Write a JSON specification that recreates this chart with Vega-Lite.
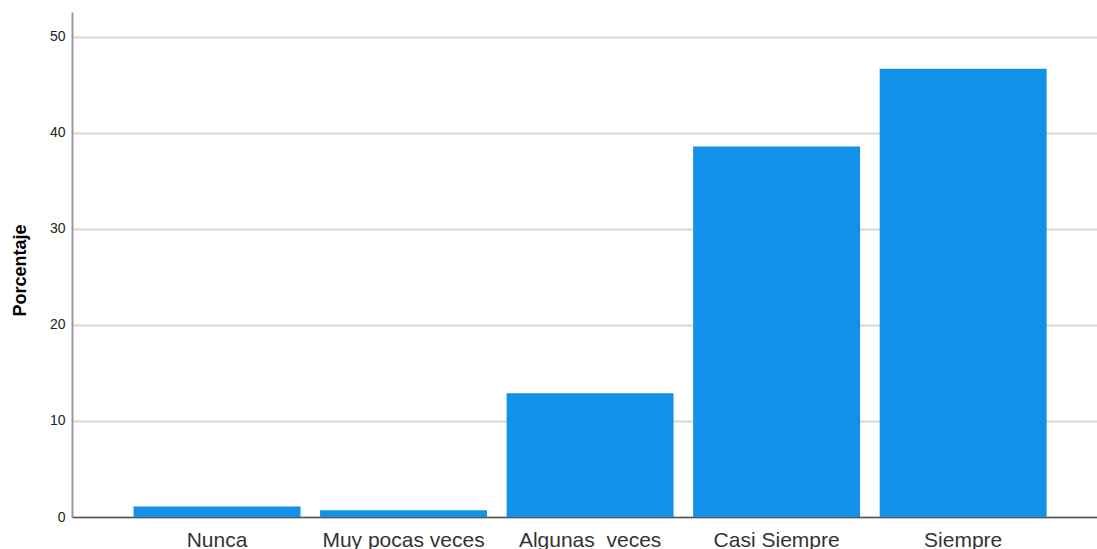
{
  "$schema": "https://vega.github.io/schema/vega-lite/v6.json",
  "width": 1025,
  "height": 505,
  "autosize": {"type": "none"},
  "padding": {"left": 72, "top": 12, "right": 0, "bottom": 32},
  "background": "white",
  "data": {
    "values": [
      {"categoria": "Nunca", "porcentaje": 1.1},
      {"categoria": "Muy pocas veces", "porcentaje": 0.7},
      {"categoria": "Algunas\u00a0 veces", "porcentaje": 12.9},
      {"categoria": "Casi Siempre", "porcentaje": 38.6},
      {"categoria": "Siempre", "porcentaje": 46.7}
    ]
  },
  "config": {
    "view": {"stroke": null},
    "font": "Liberation Sans"
  },
  "mark": {"type": "bar", "color": "#1192e8"},
  "encoding": {
    "x": {
      "field": "categoria",
      "type": "nominal",
      "sort": null,
      "scale": {"paddingInner": 0.105, "paddingOuter": 0.3, "align": 0.55},
      "axis": {
        "title": null,
        "labelAngle": 0,
        "labelFontSize": 21,
        "labelColor": "#333333",
        "labelPadding": 12,
        "ticks": false,
        "domainColor": "#555555",
        "domainWidth": 1.5,
        "grid": false
      }
    },
    "y": {
      "field": "porcentaje",
      "type": "quantitative",
      "scale": {"domain": [0, 52.6], "nice": false, "zero": true},
      "axis": {
        "title": "Porcentaje",
        "titleFontSize": 18,
        "titleFontWeight": "bold",
        "titleColor": "#000000",
        "titlePadding": 20,
        "titleY": 258,
        "values": [0, 10, 20, 30, 40, 50],
        "labelFontSize": 14,
        "labelColor": "#222222",
        "labelPadding": 7,
        "ticks": false,
        "domainColor": "#999999",
        "domainWidth": 2,
        "grid": true,
        "gridColor": "#d6d6d6",
        "gridWidth": 2
      }
    }
  }
}
